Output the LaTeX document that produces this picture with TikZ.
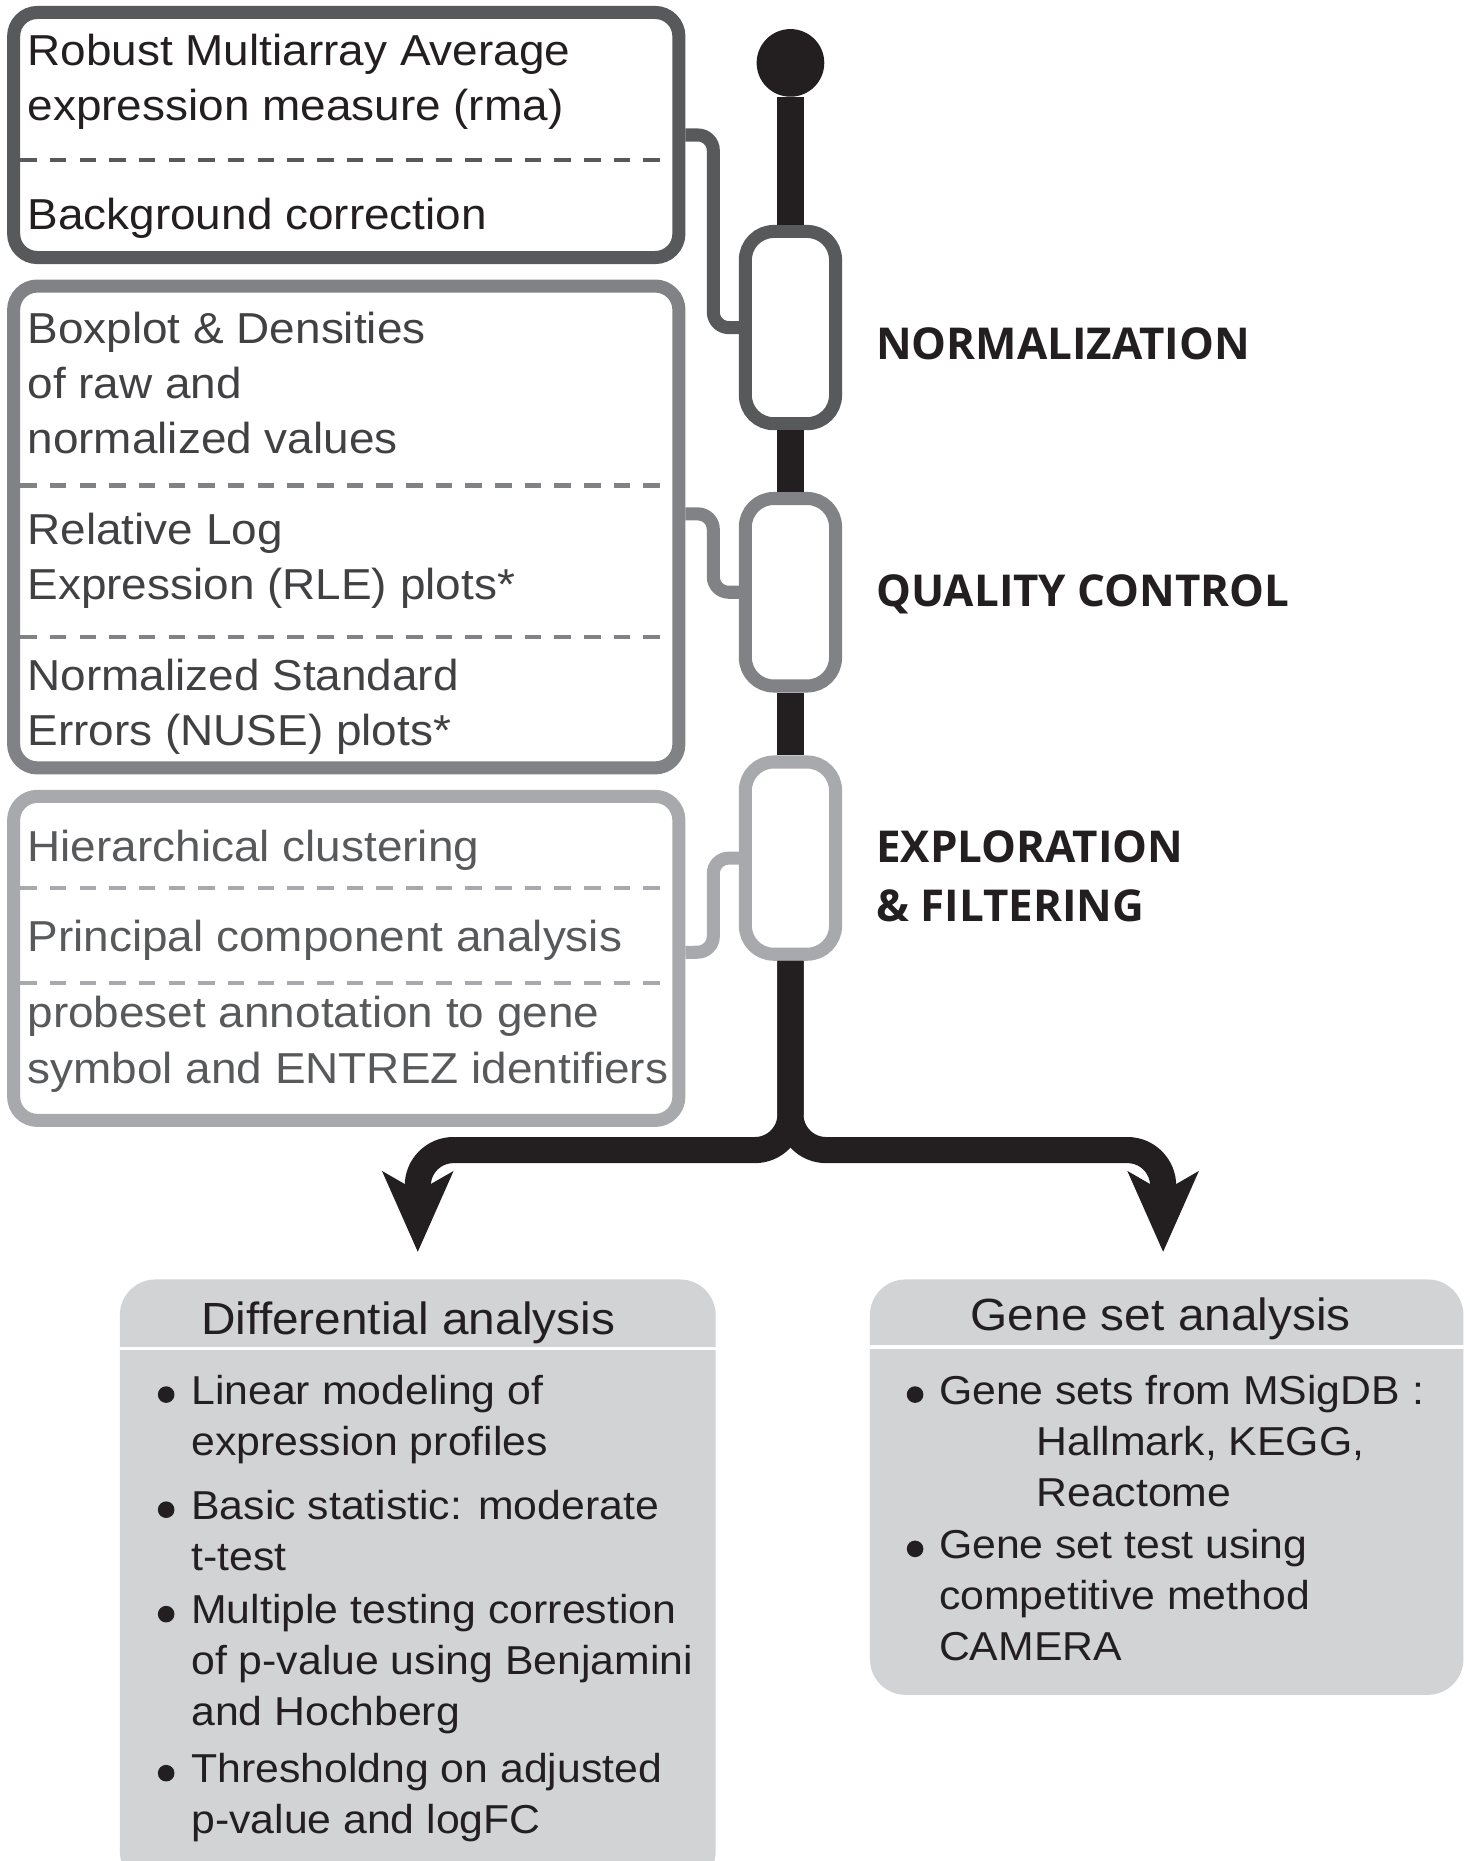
\documentclass[tikz,border=0pt]{standalone}
\usepackage{fontspec}
\setmainfont{Liberation Sans}[FakeStretch=1.06]
\newfontfamily\stagefont{Open Sans}
\usetikzlibrary{arrows.meta}

\definecolor{ink}{HTML}{231F20}
\definecolor{normgray}{HTML}{58595B}
\definecolor{qcgray}{HTML}{808285}
\definecolor{expgray}{HTML}{A7A9AC}
\definecolor{qctext}{HTML}{414042}
\definecolor{panelgray}{HTML}{D1D3D4}

\newcommand{\boxfont}{\fontsize{36.5}{46.5}\selectfont}
\newcommand{\listfont}{\fontsize{34}{43}\selectfont}
\newcommand{\headfont}{\fontsize{38}{46}\selectfont}
\newcommand{\labelfont}{\stagefont\bfseries\fontsize{37}{49}\selectfont}

\tikzset{
  stagebox/.style={draw, line width=11pt, rounded corners=20pt, minimum width=560.5pt, inner sep=0pt},
  pill/.style={draw, fill=white, line width=11pt, rounded corners=24pt, minimum width=76pt, inner sep=0pt},
  dashsep/.style={line width=3.5pt, dash pattern=on 14pt off 11pt},
  feeder/.style={line width=11pt, rounded corners=13pt},
  spine/.style={draw=ink, line width=22pt},
  % base = baseline of the last line
  boxtext/.style={anchor=base west, align=left, inner sep=0pt, font=\boxfont, text=ink},
  listtext/.style={anchor=base west, align=left, inner sep=0pt, font=\listfont, text=ink},
  stagelabel/.style={anchor=base west, align=left, inner sep=0pt, font=\labelfont, text=ink},
  resultpanel/.style={fill=panelgray, rounded corners=30pt, inner sep=0pt}
}

\begin{document}
\begin{tikzpicture}[x=1pt, y=-1pt]
  \useasboundingbox (0,0) rectangle (1238,1568);

  % step boxes on the left
  \node[stagebox, draw=normgray, minimum height=206.5pt] (norm) at (291.75,113.75) {};
  \node[stagebox, draw=qcgray, minimum height=406pt] (qc) at (291.75,444) {};
  \node[stagebox, draw=expgray, minimum height=273pt] (expl) at (291.75,807.5) {};
  \draw[dashsep, normgray] (17,135) -- (566.5,135);
  \foreach \y in {409,537}
    {\draw[dashsep, qcgray] (17,\y) -- (566.5,\y);}
  \foreach \y in {748,828}
    {\draw[dashsep, expgray] (17,\y) -- (566.5,\y);}

  \node[boxtext] (rma) at (23,101.5) {Robust Multiarray Average\\expression measure (rma)};
  \node[boxtext] (bgc) at (23,193) {Background correction};
  \node[boxtext, text=qctext] (dens) at (23,382) {Boxplot \& Densities\\of raw and\\normalized values};
  \node[boxtext, text=qctext] (rle) at (23,505.5) {Relative Log\\Expression (RLE) plots*};
  \node[boxtext, text=qctext] (nuse) at (23,628.5) {Normalized Standard\\Errors (NUSE) plots*};
  \node[boxtext, text=normgray] (hclust) at (23,726) {Hierarchical clustering};
  \node[boxtext, text=normgray] (pca) at (23,802) {Principal component analysis};
  \node[boxtext, text=normgray] (annot) at (23,912.5) {probeset annotation to gene\\symbol and ENTREZ identifiers};

  % pipeline
  \node[circle, fill=ink, minimum size=57pt, inner sep=0pt] (ball) at (666,53) {};
  \node[pill, draw=normgray, minimum height=162pt] (p1) at (666,276) {};
  \node[pill, draw=qcgray, minimum height=158pt] (p2) at (666,499) {};
  \node[pill, draw=expgray, minimum height=162pt] (p3) at (666,723) {};
  \draw[spine] (ball) -- (p1);
  \draw[spine] (p1) -- (p2);
  \draw[spine] (p2) -- (p3);

  \coordinate (rail) at (601,0);
  \draw[feeder, normgray] (norm.east) -| (rail |- p1.west) -- (p1.west);
  \draw[feeder, qcgray] ([yshift=11pt]qc.east) -| (rail |- p2.west) -- (p2.west);
  \draw[feeder, expgray] (p3.west) -| (rail |- 0,802) -- ([yshift=5pt]expl.east);

  \node[stagelabel] (normlab) at (738,303) {NORMALIZATION};
  \node[stagelabel] (qclab) at (738,511) {QUALITY CONTROL};
  \node[stagelabel] (expllab) at (738,776) {EXPLORATION\\\& FILTERING};

  % fork to the two analyses
  \coordinate (fork) at (666,969);
  \coordinate (tipL) at (352,1055);
  \coordinate (tipR) at (980,1055);
  \draw[spine, rounded corners=30pt, -{Stealth[length=67pt,width=58pt,inset=16pt]}] (p3.south) -- (fork) -| (tipL);
  \draw[spine, rounded corners=30pt, -{Stealth[length=67pt,width=58pt,inset=16pt]}] (p3.south) -- (fork) -| (tipR);

  % result panels
  \node[resultpanel, minimum width=502pt, minimum height=512pt] (diff) at (352,1334) {};
  \node[resultpanel, minimum width=500pt, minimum height=350pt] (gsa) at (983,1253) {};
  \draw[white, line width=3pt] (diff.west |- 0,1136) -- (diff.east |- 0,1136);
  \draw[white, line width=3pt] (gsa.west |- 0,1135) -- (gsa.east |- 0,1135);
  \node[anchor=base, inner sep=0pt, font=\headfont, text=ink] (difftitle) at (344,1124) {Differential analysis};
  \node[anchor=base, inner sep=0pt, font=\headfont, text=ink] (gsatitle) at (978,1121) {Gene set analysis};

  \foreach \y in {1175,1272,1360,1494}
    {\fill[ink] (140,\y) circle (7pt);}
  \node[listtext] (lin) at (161,1226) {Linear modeling of\\expression profiles};
  \node[listtext] (stat) at (161,1323) {Basic statistic: moderate\\t-test};
  \node[listtext] (fdr) at (161,1454) {Multiple testing correstion\\of p-value using Benjamini\\and Hochberg};
  \node[listtext] (thr) at (161,1545) {Thresholdng on adjusted\\p-value and logFC};

  \foreach \y in {1175,1305}
    {\fill[ink] (771,\y) circle (7pt);}
  \node[listtext] (msig) at (791,1183) {Gene sets from MSigDB :};
  \node[listtext] (coll) at (873,1269) {Hallmark, KEGG,\\Reactome};
  \node[listtext] (camera) at (791,1399) {Gene set test using\\competitive method\\CAMERA};
\end{tikzpicture}
\end{document}
